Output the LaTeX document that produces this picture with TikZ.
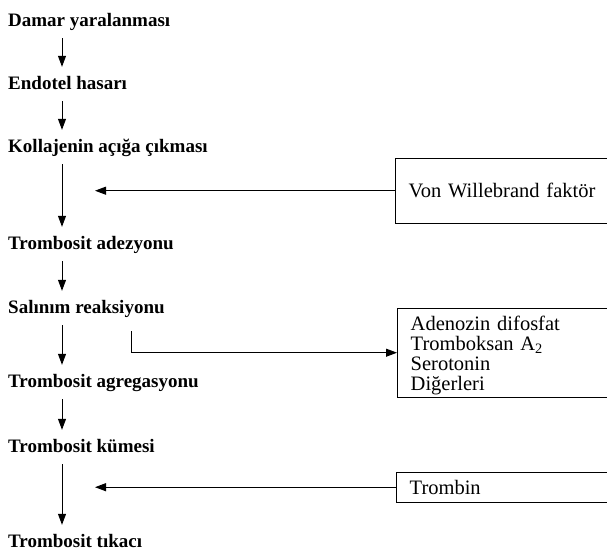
\documentclass[tikz,border=0pt]{standalone}
\usepackage{fontspec}
\setmainfont{Liberation Serif}
\usetikzlibrary{arrows.meta,calc}

\begin{document}
\begin{tikzpicture}[x=1pt,y=-1pt,
    stage/.style={anchor=base west, inner sep=0pt, text height=14pt, text depth=5pt, font=\fontsize{19}{19}\bfseries},
    sidebox/.style={anchor=north west, inner xsep=13.5pt, inner ysep=0pt, text width=200pt, align=left, font=\fontsize{20.5}{19.7}\selectfont},
    boxline/.style={line width=1pt},
    flow/.style={line width=1pt, -{Triangle[length=11pt,width=8pt]}}]
    \useasboundingbox (0,0) rectangle (607,555);

    %mark stages of the cascade
        \node[stage] (dmr) at (8,26) {Damar yaralanması};
        \node[stage] (end) at (8,89) {Endotel hasarı};
        \node[stage] (kol) at (8,152) {Kollajenin açığa çıkması};
        \node[stage] (adz) at (8,249) {Trombosit adezyonu};
        \node[stage] (sal) at (8,313) {Salınım reaksiyonu};
        \node[stage] (agr) at (8,387) {Trombosit agregasyonu};
        \node[stage] (kum) at (8,452) {Trombosit kümesi};
        \node[stage] (tik) at (8,547) {Trombosit tıkacı};

    %side boxes, open to the right
        \node[sidebox, minimum height=65pt] (vwf) at (395,158) {Von Willebrand faktör};
        \node[sidebox, minimum height=89pt] (adp) at (397,308) {\rule{0pt}{20pt}Adenozin difosfat\\Tromboksan A\textsubscript{2}\\Serotonin\\Diğerleri};
        \node[sidebox, minimum height=30pt] (trb) at (396,472) {Trombin};

        \coordinate (edge) at (615,0);
        \foreach \b in {vwf,adp,trb}
            \draw[boxline] (\b.north -| edge) -- (\b.north west) -- (\b.south west) -- (\b.south -| edge);

    %columns for the arrows
        \coordinate (col) at (62,0);
        \coordinate (tip) at (95,0);
        \coordinate (brk) at (131,0);

    %draw the main chain
        \draw[flow, shorten <=7pt, shorten >=8pt] (dmr.south -| col) -- (end.north -| col);
        \draw[flow, shorten <=7pt, shorten >=8pt] (end.south -| col) -- (kol.north -| col);
        \draw[flow, shorten <=7pt, shorten >=8pt] (kol.south -| col) -- (adz.north -| col);
        \draw[flow, shorten <=7pt, shorten >=8pt] (adz.south -| col) -- (sal.north -| col);
        \draw[flow, shorten <=7pt, shorten >=8pt] (sal.south -| col) -- (agr.north -| col);
        \draw[flow, shorten <=7pt, shorten >=8pt] (agr.south -| col) -- (kum.north -| col);
        \draw[flow, shorten <=7pt, shorten >=8pt] (kum.south -| col) -- (tik.north -| col);

    %draw the side arrows
        \draw[flow] (vwf.west) -- (vwf.west -| tip);
        \draw[flow] (trb.west) -- (trb.west -| tip);
        \draw[flow, shorten <=13pt] (sal.south -| brk) |- (adp.west);
\end{tikzpicture}
\end{document}
